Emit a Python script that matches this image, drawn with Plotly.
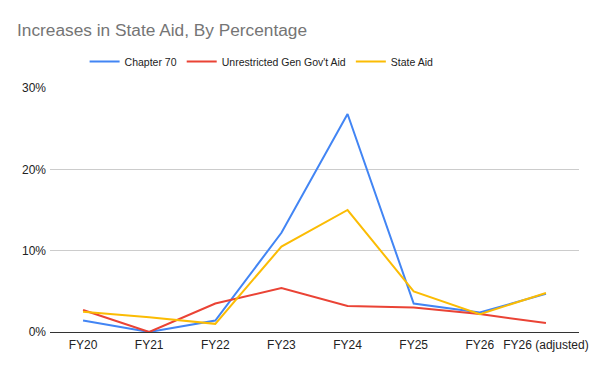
import plotly.graph_objects as go

categories = ["FY20", "FY21", "FY22", "FY23", "FY24", "FY25", "FY26", "FY26 (adjusted)"]
chapter70 = [1.4, 0.0, 1.4, 12.2, 26.8, 3.5, 2.4, 4.7]
ugga = [2.7, 0.0, 3.5, 5.4, 3.2, 3.0, 2.2, 1.1]
state_aid = [2.5, 1.8, 1.0, 10.5, 15.0, 5.0, 2.2, 4.8]
y_ticks = [0, 10, 20, 30]
y_tick_labels = ["0%", "10%", "20%", "30%"]

SANS = "Liberation Sans, Arial, sans-serif"

fig = go.Figure()
for name, vals, color in [
    ("Chapter 70", chapter70, "#4285F4"),
    ("Unrestricted Gen Gov't Aid", ugga, "#EA4335"),
    ("State Aid", state_aid, "#FBBC04"),
]:
    fig.add_trace(go.Scatter(x=categories, y=vals, name=name, mode="lines",
                             line=dict(color=color, width=2)))

fig.update_layout(
    width=592, height=363,
    margin=dict(l=42, r=18, t=80, b=39),
    paper_bgcolor="white", plot_bgcolor="white",
    font=dict(family=SANS, size=12, color="#222222"),
    title=dict(text="Increases in State Aid, By Percentage", x=0.0152, xanchor="left",
               y=0.939, yanchor="middle",
               font=dict(family=SANS, size=17.3, color="#757575")),
    legend=dict(orientation="h", x=0.40, xanchor="center", y=1.109, yanchor="middle",
                font=dict(family=SANS, size=10.5, color="#222222")),
    showlegend=True,
)
fig.update_xaxes(range=[-0.5, 7.5], showgrid=False, ticks="", showline=False,
                 ticklabelstandoff=4,
                 tickfont=dict(size=12, color="#222222"))
fig.update_yaxes(range=[0, 30], tickvals=y_ticks, ticktext=y_tick_labels,
                 showgrid=True, gridcolor="#cccccc", gridwidth=1,
                 zeroline=True, zerolinecolor="#333333", zerolinewidth=1,
                 ticklabelstandoff=3,
                 tickfont=dict(size=12, color="#222222"))

fig.write_html("out.html")
